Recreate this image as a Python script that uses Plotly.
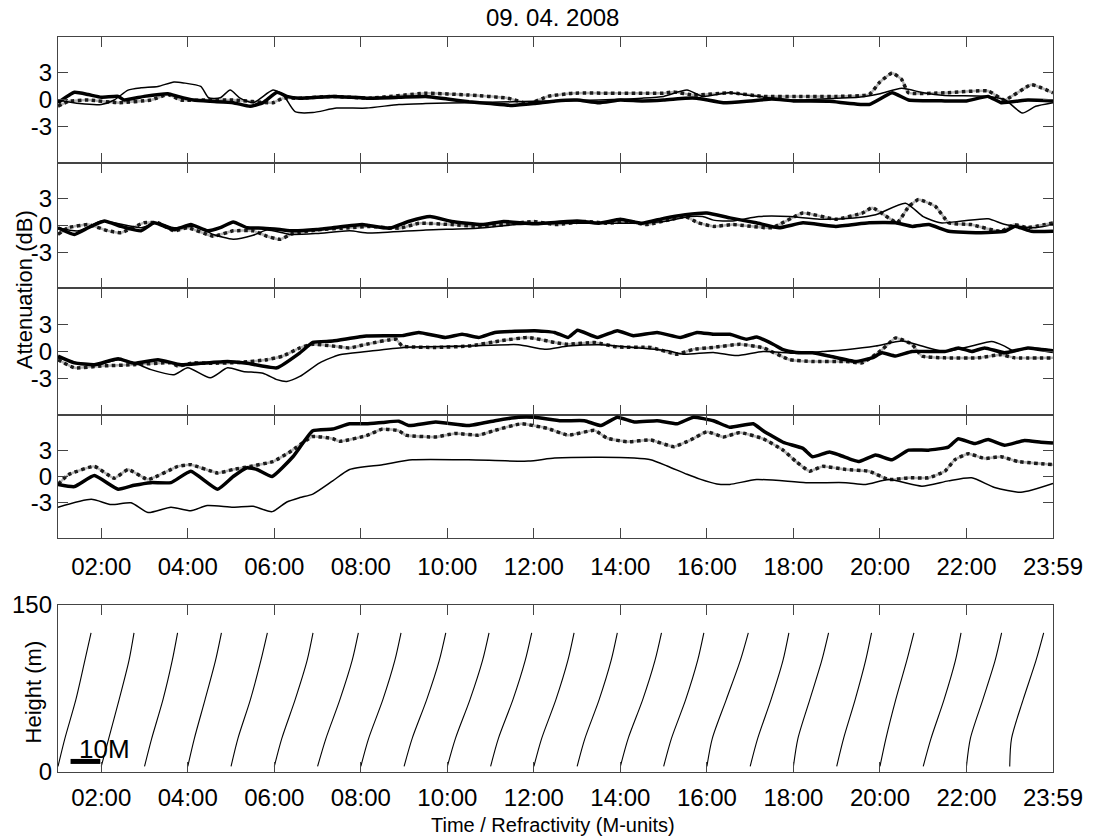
import plotly.graph_objects as go

# ---------------- data ----------------
TITLE = "09. 04. 2008"
X_TICK_HOURS = [2, 4, 6, 8, 10, 12, 14, 16, 18, 20, 22, 24]
X_TICK_TEXT = ["02:00", "04:00", "06:00", "08:00", "10:00", "12:00",
               "14:00", "16:00", "18:00", "20:00", "22:00", "23:59"]
Y_TICKS = [-3, 0, 3]

# Panel 1
P1_thin_t = [1.0, 1.5, 2.0, 2.3, 2.62, 2.92, 3.31, 3.68, 3.9, 4.3, 4.48, 4.75, 4.98, 5.21, 5.51, 5.97, 6.2, 6.48, 6.89, 7.44, 8.13, 8.88, 9.5, 10.5, 11.5, 12.5, 13.5, 14.5, 15.0, 15.54, 15.9, 16.5, 17.0, 18.0, 19.0, 19.5, 20.0, 20.5, 21.0, 21.5, 22.5, 22.9, 23.29, 23.6, 24.0]
P1_thin_v = [0.0, -0.4, -0.5, 0.0, 1.1, 1.35, 1.5, 2.0, 1.9, 1.5, 0.25, 0.25, 1.1, 0.2, -0.3, 1.1, 0.6, -1.3, -1.4, -0.9, -0.9, -0.5, -0.4, -0.3, -0.2, -0.1, 0.0, 0.2, 0.4, 1.1, 0.4, 0.8, 0.5, 0.0, 0.2, 0.3, 0.7, 1.3, 0.8, 0.5, 0.4, 0.0, -1.45, -0.7, -0.3]
P1_thick_t = [1.0, 1.38, 1.7, 2.0, 2.39, 2.53, 2.99, 3.54, 3.77, 4.13, 4.52, 5.05, 5.44, 5.74, 6.06, 6.29, 6.59, 7.35, 8.13, 8.88, 9.5, 10.0, 10.5, 11.0, 11.5, 12.0, 12.5, 13.0, 13.5, 14.0, 14.5, 15.0, 15.5, 15.77, 16.38, 17.0, 17.5, 18.0, 18.83, 19.75, 20.28, 20.66, 21.5, 22.0, 22.5, 22.8, 23.42, 24.0]
P1_thick_v = [-0.3, 0.85, 0.6, 0.3, 0.4, 0.0, 0.4, 0.7, 0.4, 0.0, -0.15, -0.3, -0.7, -0.3, 0.85, 0.4, 0.2, 0.4, 0.2, 0.3, 0.4, 0.1, -0.2, -0.4, -0.6, -0.4, -0.1, 0.0, -0.3, 0.0, -0.1, 0.0, 0.2, 0.2, -0.3, -0.1, 0.1, -0.1, -0.15, -0.5, 0.8, 0.0, -0.1, -0.1, 0.4, -0.3, 0.0, -0.1]
P1_dot_t = [1.0, 1.24, 1.7, 2.39, 3.15, 3.54, 3.84, 4.45, 5.05, 5.97, 6.2, 6.59, 7.35, 8.19, 9.5, 10.5, 11.4, 11.87, 12.33, 12.9, 14.0, 15.0, 15.23, 15.69, 16.53, 17.3, 18.06, 19.0, 19.75, 20.0, 20.28, 20.5, 20.66, 21.5, 22.5, 22.88, 23.5, 24.0]
P1_dot_v = [-0.7, -0.15, 0.0, -0.3, 0.0, 0.6, 0.0, 0.0, 0.0, -0.3, 0.2, 0.2, 0.4, 0.2, 0.75, 0.55, 0.2, -0.4, 0.4, 0.75, 0.75, 0.75, 0.9, 0.55, 0.8, 0.4, 0.4, 0.4, 0.6, 2.0, 3.0, 2.3, 0.8, 0.8, 1.0, 0.0, 1.7, 0.8]

# Panel 2
P2_thick_t = [1.0, 1.38, 1.7, 2.07, 2.46, 2.92, 3.22, 3.68, 4.07, 4.46, 4.75, 5.05, 5.37, 5.74, 6.13, 6.43, 6.98, 7.35, 8.03, 8.19, 8.66, 9.1, 9.6, 10.1, 10.8, 11.3, 12.0, 13.0, 13.5, 14.0, 14.5, 15.0, 15.5, 16.0, 16.53, 17.14, 17.67, 18.22, 18.98, 19.75, 20.36, 20.75, 21.13, 21.59, 22.28, 22.89, 23.12, 23.5, 24.0]
P2_thick_v = [-0.25, -1.0, -0.25, 0.5, -0.1, -0.6, 0.3, -0.45, 0.1, -0.6, -0.25, 0.4, -0.25, -0.3, -0.45, -0.6, -0.45, -0.25, 0.1, 0.0, -0.3, 0.45, 1.0, 0.45, 0.1, 0.45, 0.2, 0.5, 0.25, 0.7, 0.25, 0.8, 1.2, 1.4, 0.85, 0.3, -0.25, 0.3, -0.1, 0.3, 0.3, -0.1, 0.1, -0.65, -0.8, -0.65, -0.1, -0.65, -0.65]
P2_thin_t = [1.0, 1.47, 2.0, 2.3, 2.92, 3.31, 3.68, 4.2, 4.59, 5.05, 5.51, 5.83, 6.36, 6.98, 7.74, 8.19, 9.5, 10.7, 11.6, 12.8, 14.3, 15.0, 15.6, 15.9, 16.15, 16.6, 17.2, 17.9, 18.6, 19.4, 19.9, 20.59, 21.0, 21.4, 21.9, 22.5, 22.9, 23.6, 24.0]
P2_thin_v = [-0.25, -0.6, 0.5, 0.3, -0.25, 0.3, -0.25, -0.1, -1.0, -1.55, -1.1, -0.5, -1.0, -0.9, -0.6, -0.85, -0.5, -0.3, 0.1, 0.25, 0.25, 0.45, 1.0, 1.0, 0.6, 0.5, 1.0, 1.0, 0.7, 0.85, 1.2, 2.5, 1.0, 0.3, 0.5, 0.75, 0.1, -0.25, 0.1]
P2_dot_t = [1.0, 1.24, 1.7, 2.16, 2.46, 2.99, 3.31, 3.68, 4.0, 4.59, 5.05, 5.51, 5.83, 6.13, 6.43, 6.98, 7.74, 8.19, 8.9, 9.35, 10.1, 10.7, 11.3, 12.0, 12.5, 13.2, 13.7, 14.2, 14.6, 15.1, 15.5, 15.8, 16.15, 16.6, 17.5, 18.22, 18.98, 19.6, 19.82, 20.2, 20.4, 20.67, 20.89, 21.28, 21.59, 22.1, 22.8, 23.1, 23.4, 24.0]
P2_dot_v = [-1.0, -0.25, 0.1, -0.6, -0.8, 0.3, 0.3, -0.6, -0.25, -1.2, -0.6, -0.6, -1.2, -1.55, -0.9, -0.5, -0.25, -0.1, -0.3, 0.25, 0.1, -0.1, 0.1, 0.45, 0.1, 0.45, 0.25, 0.45, 0.1, 0.6, 1.0, 0.3, -0.1, 0.1, -0.25, 1.4, 0.7, 1.4, 2.0, 0.85, 0.3, 2.15, 2.9, 2.15, 0.3, 0.1, -0.65, 0.1, -0.25, 0.3]

# Panel 3
P3_thick_t = [1.0, 1.38, 1.84, 2.39, 2.76, 3.31, 3.84, 4.3, 4.92, 5.37, 6.06, 6.59, 6.89, 7.35, 8.13, 8.96, 9.34, 9.96, 10.34, 10.72, 11.1, 12.02, 12.48, 12.79, 13.01, 13.47, 13.93, 14.3, 14.85, 15.39, 15.77, 16.15, 16.53, 16.92, 17.15, 17.53, 17.76, 18.06, 18.44, 18.83, 19.44, 19.82, 20.05, 20.36, 20.74, 21.5, 21.81, 22.12, 22.42, 22.88, 23.42, 24.0]
P3_thick_v = [-0.5, -1.25, -1.45, -0.8, -1.3, -0.9, -1.45, -1.3, -1.1, -1.3, -1.8, -0.15, 1.0, 1.15, 1.7, 1.75, 2.1, 1.55, 1.9, 1.55, 2.1, 2.3, 2.1, 1.55, 2.35, 1.55, 2.3, 1.75, 2.1, 1.55, 2.1, 1.9, 1.9, 1.35, 1.6, 0.8, 0.2, -0.1, -0.15, -0.5, -1.1, -0.7, -0.15, -0.5, 0.0, 0.0, 0.4, 0.0, 0.4, -0.15, 0.4, 0.0]
P3_thin_t = [1.0, 1.84, 2.39, 2.76, 3.15, 3.68, 4.0, 4.52, 4.92, 5.28, 5.74, 6.06, 6.29, 6.59, 7.05, 7.51, 8.13, 9.0, 10.49, 11.64, 12.25, 12.79, 13.55, 14.3, 15.08, 15.46, 16.15, 16.69, 17.3, 18.06, 18.67, 19.21, 19.9, 20.51, 20.97, 21.5, 22.12, 22.58, 22.88, 23.11, 23.42, 24.0]
P3_thin_v = [-0.7, -1.55, -0.9, -1.25, -2.0, -2.55, -1.8, -2.9, -1.8, -2.2, -2.4, -3.1, -3.3, -2.75, -1.25, -0.35, 0.0, 0.45, 0.6, 0.75, 0.25, 0.6, 0.75, 0.45, 0.1, -0.3, -0.1, -0.45, 0.0, -0.2, 0.0, 0.2, 0.6, 1.15, 0.6, 0.0, 0.6, 1.1, 0.6, 0.0, 0.4, 0.2]
P3_dot_t = [1.0, 1.38, 2.0, 2.76, 3.61, 3.77, 4.13, 4.5, 5.21, 5.83, 6.2, 6.59, 6.89, 7.35, 7.74, 8.13, 8.81, 8.96, 9.73, 10.49, 11.26, 11.87, 12.48, 12.79, 13.4, 13.93, 14.7, 15.31, 15.69, 16.15, 16.76, 17.3, 17.91, 18.44, 19.21, 19.59, 20.05, 20.36, 20.74, 20.97, 21.5, 22.27, 22.8, 23.11, 24.0]
P3_dot_v = [-0.9, -1.8, -1.6, -1.45, -1.25, -1.6, -1.25, -1.3, -1.2, -0.9, -0.5, 0.4, 0.8, 0.6, 0.4, 0.8, 1.35, 0.6, 0.45, 0.6, 1.2, 1.55, 1.0, 0.8, 1.0, 0.5, 0.45, -0.3, 0.25, 0.45, 0.8, 0.4, -0.9, -1.1, -1.1, -1.25, 0.2, 1.5, 0.8, -0.5, -0.7, -0.7, -0.35, -0.7, -0.7]

# Panel 4
P4_thick_t = [1.0, 1.38, 1.84, 2.39, 2.76, 3.15, 3.61, 4.07, 4.69, 5.05, 5.37, 5.6, 5.95, 6.43, 6.89, 7.35, 7.74, 8.13, 8.5, 8.88, 9.11, 9.73, 10.49, 11.1, 11.64, 12.02, 12.63, 13.17, 13.55, 13.93, 14.32, 14.85, 15.31, 15.69, 16.15, 16.53, 17.07, 17.3, 17.76, 18.22, 18.44, 18.83, 19.06, 19.36, 19.52, 19.9, 20.28, 20.66, 21.12, 21.58, 21.81, 22.19, 22.5, 22.88, 23.34, 23.72, 24.0]
P4_thick_v = [-0.9, -1.15, 0.1, -1.45, -1.0, -0.7, -0.7, 0.6, -1.45, 0.0, 1.0, 0.8, 0.0, 2.25, 5.2, 5.4, 6.0, 6.0, 6.15, 6.3, 5.8, 6.2, 5.8, 6.35, 6.75, 6.75, 6.35, 6.35, 5.8, 6.75, 6.2, 6.35, 6.0, 6.75, 6.35, 5.6, 6.0, 5.2, 3.9, 3.2, 2.25, 2.8, 2.45, 1.9, 1.7, 2.45, 1.9, 3.0, 3.0, 3.35, 4.3, 3.75, 4.2, 3.55, 4.1, 3.9, 3.8]
P4_thin_t = [1.0, 1.77, 2.23, 2.69, 3.08, 3.61, 4.07, 4.45, 5.05, 5.51, 5.95, 6.29, 6.59, 6.89, 7.35, 7.74, 8.5, 9.19, 10.49, 11.87, 12.48, 13.55, 14.32, 14.7, 15.08, 15.54, 15.84, 16.23, 16.53, 17.15, 18.29, 19.21, 19.67, 20.2, 20.97, 21.58, 22.12, 22.65, 23.26, 24.0]
P4_thin_v = [-3.5, -2.6, -3.2, -3.0, -4.1, -3.5, -3.9, -3.3, -3.5, -3.4, -4.0, -2.9, -2.4, -2.0, -0.5, 0.8, 1.35, 1.9, 1.9, 1.75, 2.1, 2.2, 2.1, 1.9, 1.2, 0.25, -0.3, -0.85, -0.9, -0.35, -0.7, -0.7, -0.9, -0.35, -1.1, -0.5, -0.15, -1.25, -1.8, -0.8]
P4_dot_t = [1.0, 1.24, 1.84, 2.3, 2.62, 3.08, 3.77, 4.07, 4.69, 5.05, 5.44, 5.97, 6.36, 6.89, 7.35, 7.51, 8.13, 8.5, 8.88, 9.04, 9.73, 10.18, 10.72, 11.1, 11.71, 12.33, 12.79, 13.4, 13.7, 14.16, 14.7, 15.23, 15.62, 16.0, 16.38, 16.76, 17.3, 17.76, 18.06, 18.37, 18.67, 19.21, 19.75, 20.2, 20.66, 21.12, 21.5, 21.73, 22.04, 22.42, 22.8, 23.19, 24.0]
P4_dot_v = [-0.9, 0.2, 1.15, -0.2, 0.8, -0.35, 1.15, 1.35, 0.4, 0.8, 1.15, 1.7, 2.8, 4.55, 4.3, 4.0, 4.65, 5.4, 5.2, 4.7, 4.5, 4.9, 4.7, 5.25, 6.0, 5.45, 4.7, 5.25, 4.35, 3.95, 4.15, 3.4, 4.15, 5.1, 4.5, 5.0, 4.3, 3.0, 1.7, 0.6, 1.15, 0.8, 0.6, -0.35, -0.15, -0.15, 0.6, 1.9, 2.6, 2.05, 2.25, 1.7, 1.35]

# Refractivity profiles (bottom panel): start hour, heights (m), M-unit offsets
PROFILE_START = list(range(1, 24))
PROFILE_H = [5, 30, 65, 100, 125]
PROFILE_M = [
    [0, 2.3, 6.0, 9.0, 11.1],
    [0, 2.5, 6.0, 9.3, 11.0],
    [0, 2.4, 6.2, 9.3, 11.1],
    [0, 2.2, 5.8, 9.3, 11.3],
    [0, 2.3, 6.5, 10.0, 12.2],
    [0, 2.5, 7.0, 11.0, 13.0],
    [0, 2.8, 7.5, 11.6, 13.7],
    [0, 2.6, 7.4, 11.4, 13.5],
    [0, 2.7, 7.6, 11.8, 14.0],
    [0, 2.7, 7.6, 11.8, 14.0],
    [0, 2.6, 7.5, 11.6, 13.8],
    [0, 2.6, 7.4, 11.4, 13.5],
    [0, 2.6, 7.4, 11.4, 13.5],
    [0, 2.6, 7.5, 11.6, 13.8],
    [0, 2.6, 7.4, 11.4, 13.5],
    [0, 1.8, 6.5, 11.2, 13.9],
    [0, 2.5, 7.0, 11.0, 13.0],
    [0, 1.5, 5.5, 9.5, 11.8],
    [0, 2.3, 6.2, 9.7, 11.7],
    [0, 2.0, 5.3, 9.0, 11.4],
    [0, 2.6, 7.0, 10.8, 12.7],
    [0, 1.3, 5.5, 9.6, 11.8],
    [0, 0.6, 4.5, 8.8, 11.4],
]
M_PER_HOUR = 14.53          # horizontal scale: M-units per hour of time axis
SCALE_BAR_M = 10
SCALE_BAR_LABEL = "10M"

# ---------------- figure ----------------
FONT = "Liberation Sans, Arial, sans-serif"
AX_COLOR = "#444444"
fig = go.Figure()

panels = [
    (P1_thin_t, P1_thin_v, P1_thick_t, P1_thick_v, P1_dot_t, P1_dot_v),
    (P2_thin_t, P2_thin_v, P2_thick_t, P2_thick_v, P2_dot_t, P2_dot_v),
    (P3_thin_t, P3_thin_v, P3_thick_t, P3_thick_v, P3_dot_t, P3_dot_v),
    (P4_thin_t, P4_thin_v, P4_thick_t, P4_thick_v, P4_dot_t, P4_dot_v),
]

for k, (tt, tv, kt, kv, dt, dv) in enumerate(panels, start=1):
    xa = "x" if k == 1 else f"x{k}"
    ya = "y" if k == 1 else f"y{k}"
    fig.add_trace(go.Scatter(x=dt, y=dv, xaxis=xa, yaxis=ya, mode="lines",
                             line=dict(color="#b5b5b5", width=2.5, shape="spline", smoothing=0.4),
                             hoverinfo="skip"))
    fig.add_trace(go.Scatter(x=dt, y=dv, xaxis=xa, yaxis=ya, mode="lines",
                             line=dict(color="#1a1a1a", width=3.5, dash="dot",
                                       shape="spline", smoothing=0.4)))
    fig.add_trace(go.Scatter(x=tt, y=tv, xaxis=xa, yaxis=ya, mode="lines",
                             line=dict(color="black", width=1.5, shape="spline", smoothing=0.6)))
    fig.add_trace(go.Scatter(x=kt, y=kv, xaxis=xa, yaxis=ya, mode="lines",
                             line=dict(color="black", width=3.5, shape="spline", smoothing=0.4)))

# profiles
for start, mvals in zip(PROFILE_START, PROFILE_M):
    fig.add_trace(go.Scatter(x=[start + m / M_PER_HOUR for m in mvals], y=PROFILE_H,
                             xaxis="x5", yaxis="y5", mode="lines",
                             line=dict(color="black", width=1.1, shape="spline", smoothing=0.8)))

# scale bar
bar_x0 = 1.29
bar_z = 9.5
fig.add_trace(go.Scatter(x=[bar_x0, bar_x0 + SCALE_BAR_M / M_PER_HOUR], y=[bar_z, bar_z],
                         xaxis="x5", yaxis="y5", mode="lines",
                         line=dict(color="black", width=5)))

domains = [(0.8286, 1.0), (0.6585, 0.8286), (0.4857, 0.6585), (0.3184, 0.4857), (0.0, 0.2272)]

common_x = dict(range=[1, 24], tickvals=X_TICK_HOURS, ticktext=X_TICK_TEXT,
                ticks="inside", ticklen=10, tickcolor=AX_COLOR, tickwidth=1.2,
                showline=True, linecolor=AX_COLOR, linewidth=1.3, mirror="ticks",
                showgrid=False, zeroline=False,
                tickfont=dict(family=FONT, size=24, color="black"))
common_y = dict(ticks="inside", ticklen=10, tickcolor=AX_COLOR, tickwidth=1.2,
                showline=True, linecolor=AX_COLOR, linewidth=1.3, mirror="ticks",
                showgrid=False, zeroline=False,
                tickfont=dict(family=FONT, size=24, color="black"))

layout = dict(width=1095, height=836, margin=dict(l=56, r=36, t=37, b=64),
              plot_bgcolor="white", paper_bgcolor="white", showlegend=False,
              font=dict(family=FONT, color="black"))

for k in range(1, 6):
    xname = "xaxis" if k == 1 else f"xaxis{k}"
    yname = "yaxis" if k == 1 else f"yaxis{k}"
    yref = "y" if k == 1 else f"y{k}"
    xref = "x" if k == 1 else f"x{k}"
    xa = dict(common_x, anchor=yref, domain=[0, 1],
              showticklabels=(k >= 4), ticklabelstandoff=(7 if k == 4 else 4))
    if k == 5:
        ya = dict(common_y, anchor=xref, domain=list(domains[k - 1]),
                  range=[0, 150], tickvals=[0, 150], ticktext=["0", "150"])
    else:
        ya = dict(common_y, anchor=xref, domain=list(domains[k - 1]),
                  range=[-7, 7], tickvals=Y_TICKS, ticktext=[str(v) for v in Y_TICKS])
    layout[xname] = xa
    layout[yname] = ya

fig.update_layout(**layout)

fig.add_annotation(text=TITLE, xref="paper", yref="paper", x=0.497, y=1.026,
                   xanchor="center", yanchor="middle", showarrow=False,
                   font=dict(family=FONT, size=24))
fig.add_annotation(text="Attenuation (dB)", xref="paper", yref="paper", x=-0.0334, y=0.6565,
                   textangle=-90, xanchor="center", yanchor="middle", showarrow=False,
                   font=dict(family=FONT, size=22))
fig.add_annotation(text="Height (m)", xref="paper", yref="paper", x=-0.0242, y=0.1095,
                   textangle=-90, xanchor="center", yanchor="middle", showarrow=False,
                   font=dict(family=FONT, size=22))
fig.add_annotation(text="Time / Refractivity (M-units)", xref="paper", yref="paper",
                   x=0.4975, y=-0.0715, xanchor="center", yanchor="middle", showarrow=False,
                   font=dict(family=FONT, size=20))
fig.add_annotation(text=SCALE_BAR_LABEL, xref="x5", yref="y5", x=1.45, y=21,
                   xanchor="left", yanchor="middle", showarrow=False,
                   font=dict(family=FONT, size=26))

fig.write_html("out.html")
